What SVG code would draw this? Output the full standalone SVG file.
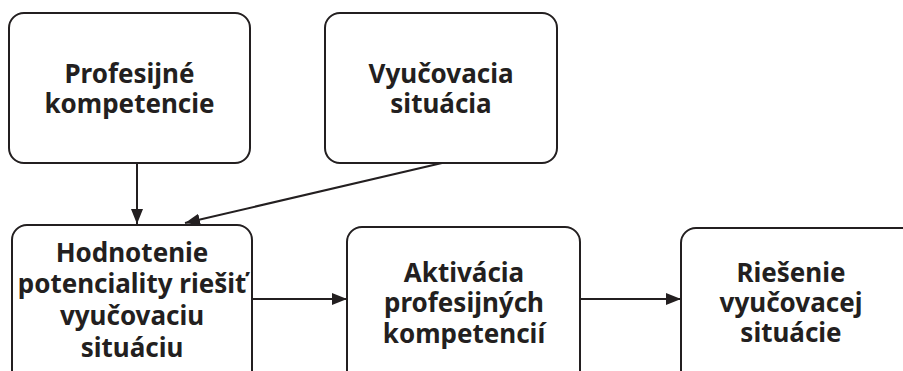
<svg xmlns="http://www.w3.org/2000/svg" width="903" height="371" viewBox="0 0 903 371">
<defs>
<style>
.box{fill:#fff;stroke:#231f20;stroke-width:2}
.t{font-family:"Noto Sans","Open Sans","Liberation Sans",sans-serif;font-weight:bold;font-size:26px;fill:#231f20;text-anchor:middle}
.c{stroke:#231f20;stroke-width:2;fill:none}
</style>
<marker id="ah" viewBox="0 0 15 12" refX="15" refY="6" markerWidth="15" markerHeight="12" markerUnits="userSpaceOnUse" orient="auto">
<path d="M0,0 L15,6 L0,12 Z" fill="#231f20"/>
</marker>
</defs>
<rect width="903" height="371" fill="#fff"/>
<g id="connectors">
<line class="c" x1="137" y1="163" x2="137" y2="224" marker-end="url(#ah)"/>
<line class="c" x1="442" y1="163" x2="185" y2="223" marker-end="url(#ah)"/>
<line class="c" x1="252" y1="299" x2="347" y2="299" marker-end="url(#ah)"/>
<line class="c" x1="580" y1="299" x2="681" y2="299" marker-end="url(#ah)"/>
</g>
<g id="n1">
<rect class="box" x="9" y="13" width="241" height="150" rx="15"/>
<text class="t" x="129.5" y="83">Profesijné</text>
<text class="t" x="129.5" y="113">kompetencie</text>
</g>
<g id="n2">
<rect class="box" x="325" y="13" width="232" height="150" rx="15"/>
<text class="t" x="441" y="83">Vyučovacia</text>
<text class="t" x="441" y="113">situácia</text>
</g>
<g id="n3">
<rect class="box" x="12" y="225" width="240" height="160" rx="15"/>
<text class="t" x="132" y="262">Hodnotenie</text>
<text class="t" x="132" y="293">potenciality riešiť</text>
<text class="t" x="132" y="325">vyučovaciu</text>
<text class="t" x="132" y="357">situáciu</text>
</g>
<g id="n4">
<rect class="box" x="347" y="227" width="233" height="160" rx="15"/>
<text class="t" x="464" y="282">Aktivácia</text>
<text class="t" x="464" y="312">profesijných</text>
<text class="t" x="464" y="343">kompetencií</text>
</g>
<g id="n5">
<rect class="box" x="681" y="228" width="240" height="160" rx="15"/>
<text class="t" x="791" y="282">Riešenie</text>
<text class="t" x="791" y="312">vyučovacej</text>
<text class="t" x="791" y="342">situácie</text>
</g>
</svg>
